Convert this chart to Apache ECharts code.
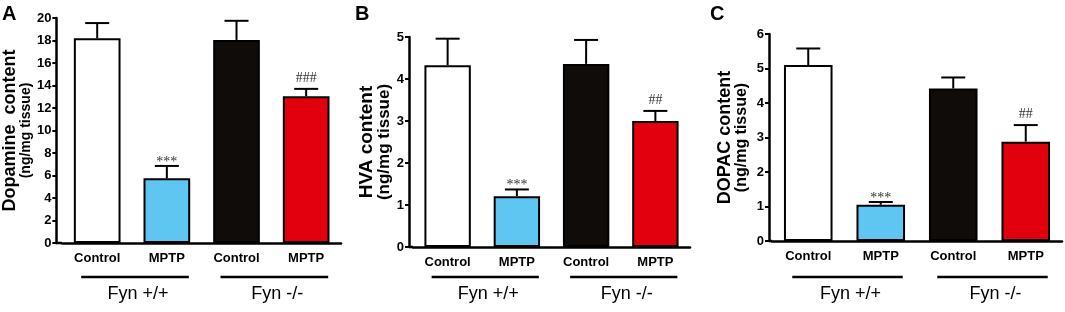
<!DOCTYPE html>
<html>
<head>
<meta charset="utf-8">
<script src="https://cdn.jsdelivr.net/npm/echarts@6/dist/echarts.min.js"></script>
<style>
  html, body { margin: 0; padding: 0; background: #fff; }
  #main { width: 1065px; height: 312px; }
</style>
</head>
<body>
<div id="main"></div>
<script>
// categories / groups
var categories = ['Control', 'MPTP', 'Control', 'MPTP'];
var groups = ['Fyn +/+', 'Fyn -/-'];
var barColors = ['#ffffff', '#5fc6f1', '#100c0a', '#e2000f'];

// A: dopamine (ng/mg tissue)
var dopamineMean = [18.2, 5.75, 18.05, 13.05];
var dopamineErr = [1.35, 1.1, 1.7, 0.65];
var dopamineSig = ['', '***', '', '###'];

// B: HVA
var hvaMean = [4.33, 1.21, 4.36, 3.0];
var hvaErr = [0.63, 0.16, 0.57, 0.24];
var hvaSig = ['', '***', '', '##'];

// C: DOPAC
var dopacMean = [5.1, 1.05, 4.42, 2.88];
var dopacErr = [0.48, 0.08, 0.32, 0.48];
var dopacSig = ['', '***', '', '##'];

var FONT = '"Liberation Sans", Arial, sans-serif';
var SERIF = '"Liberation Serif", "Times New Roman", serif';

var panels = [
  { letter: 'A', lx: 2, mean: dopamineMean, err: dopamineErr, sig: dopamineSig,
    name1: 'Dopamine  content', name2: '(ng/mg tissue)', f1: 18, f2: 14, lh1: 17, lh2: 15, nameGap: 22,
    max: 20, interval: 2, left: 62, width: 279, top: 18, height: 225, yOffset: 6 },
  { letter: 'B', lx: 355, mean: hvaMean, err: hvaErr, sig: hvaSig,
    name1: 'HVA content', name2: '(ng/mg tissue)', f1: 19, f2: 17, lh1: 19, lh2: 17, nameGap: 10,
    max: 5, interval: 1, left: 413, width: 277, top: 37, height: 210, yOffset: 4 },
  { letter: 'C', lx: 710, mean: dopacMean, err: dopacErr, sig: dopacSig,
    name1: 'DOPAC content', name2: '(ng/mg tissue)', f1: 18, f2: 16, lh1: 18, lh2: 16, nameGap: 19,
    max: 6, interval: 1, left: 772, width: 290, top: 34, height: 207, yOffset: 3 }
];

var chart = echarts.init(document.getElementById('main'));

var grids = [], xAxes = [], yAxes = [], series = [];
panels.forEach(function (p, i) {
  grids.push({ left: p.left, top: p.top, width: p.width, height: p.height, containLabel: false });
  xAxes.push({
    type: 'category', gridIndex: i, data: categories,
    axisLine: { lineStyle: { color: '#000', width: 2.5 } },
    axisTick: { alignWithLabel: true, length: 4, lineStyle: { color: '#000', width: 2 } },
    axisLabel: { color: '#000', fontFamily: FONT, fontWeight: 'bold', fontSize: 13, margin: 9 }
  });
  yAxes.push({
    type: 'value', gridIndex: i, min: 0, max: p.max, interval: p.interval, offset: p.yOffset,
    splitLine: { show: false },
    axisLine: { show: true, lineStyle: { color: '#000', width: 2.5 } },
    axisTick: { show: true, length: 4, lineStyle: { color: '#000', width: 2 } },
    axisLabel: { color: '#000', fontFamily: FONT, fontWeight: 'bold', fontSize: 13, margin: 5 },
    name: '{a|' + p.name1 + '}\n{b|' + p.name2 + '}',
    nameLocation: 'middle', nameGap: p.nameGap,
    nameTextStyle: {
      fontFamily: FONT, color: '#000', align: 'center',
      rich: {
        a: { fontFamily: FONT, fontWeight: 'bold', fontSize: p.f1, lineHeight: p.lh1, color: '#000' },
        b: { fontFamily: FONT, fontWeight: 'bold', fontSize: p.f2, lineHeight: p.lh2, color: '#000' }
      }
    }
  });
  series.push({
    type: 'bar', xAxisIndex: i, yAxisIndex: i, barWidth: '67%',
    data: p.mean.map(function (v, k) {
      return { value: v, itemStyle: { color: barColors[k] } };
    }),
    itemStyle: { borderColor: '#000', borderWidth: 2 },
    z: 2
  });
  series.push({
    type: 'custom', xAxisIndex: i, yAxisIndex: i, z: 3,
    data: p.mean.map(function (v, k) { return [k, v, p.err[k]]; }),
    renderItem: function (params, api) {
      var k = api.value(0), m = api.value(1), e = api.value(2);
      var base = api.coord([k, m]);
      var top = api.coord([k, m + e]);
      var half = 12;
      var style = { stroke: '#000', lineWidth: 2 };
      var children = [
        { type: 'line', shape: { x1: base[0], y1: base[1], x2: top[0], y2: top[1] }, style: style },
        { type: 'line', shape: { x1: top[0] - half, y1: top[1], x2: top[0] + half, y2: top[1] }, style: style }
      ];
      var s = p.sig[params.dataIndex];
      if (s) {
        var star = s.charAt(0) === '*';
        children.push({
          type: 'text',
          style: {
            text: s, x: top[0], y: top[1] + (star ? 3 : -4),
            align: 'center', verticalAlign: 'bottom',
            font: (star ? '14px ' : '14px ') + SERIF, fill: '#333'
          }
        });
      }
      return { type: 'group', children: children };
    }
  });
});

chart.setOption({
  animation: false,
  backgroundColor: '#fff',
  grid: grids, xAxis: xAxes, yAxis: yAxes, series: series
});

// panel letters, axis joins, group bars and labels
var graphic = [];
panels.forEach(function (p, i) {
  graphic.push({
    type: 'text', left: p.lx, top: 4,
    style: { text: p.letter, font: 'bold 20px ' + FONT, fill: '#000' }
  });
  var yBase = p.top + p.height;
  graphic.push({
    type: 'line', shape: { x1: p.left - p.yOffset, y1: yBase, x2: p.left, y2: yBase },
    style: { stroke: '#000', lineWidth: 2.5 }
  });
  var cx = categories.map(function (c, k) { return chart.convertToPixel({ xAxisIndex: i }, k); });
  groups.forEach(function (g, gi) {
    var x1 = cx[gi * 2] - 16, x2 = cx[gi * 2 + 1] + 22;
    graphic.push({
      type: 'line', shape: { x1: x1, y1: 277, x2: x2, y2: 277 },
      style: { stroke: '#000', lineWidth: 2.5 }
    });
    graphic.push({
      type: 'text', x: (x1 + x2) / 2 + 3, y: 294,
      style: { text: g, font: '18px ' + FONT, fill: '#000', align: 'center', verticalAlign: 'middle' }
    });
  });
});
chart.setOption({ graphic: graphic });
</script>
</body>
</html>
